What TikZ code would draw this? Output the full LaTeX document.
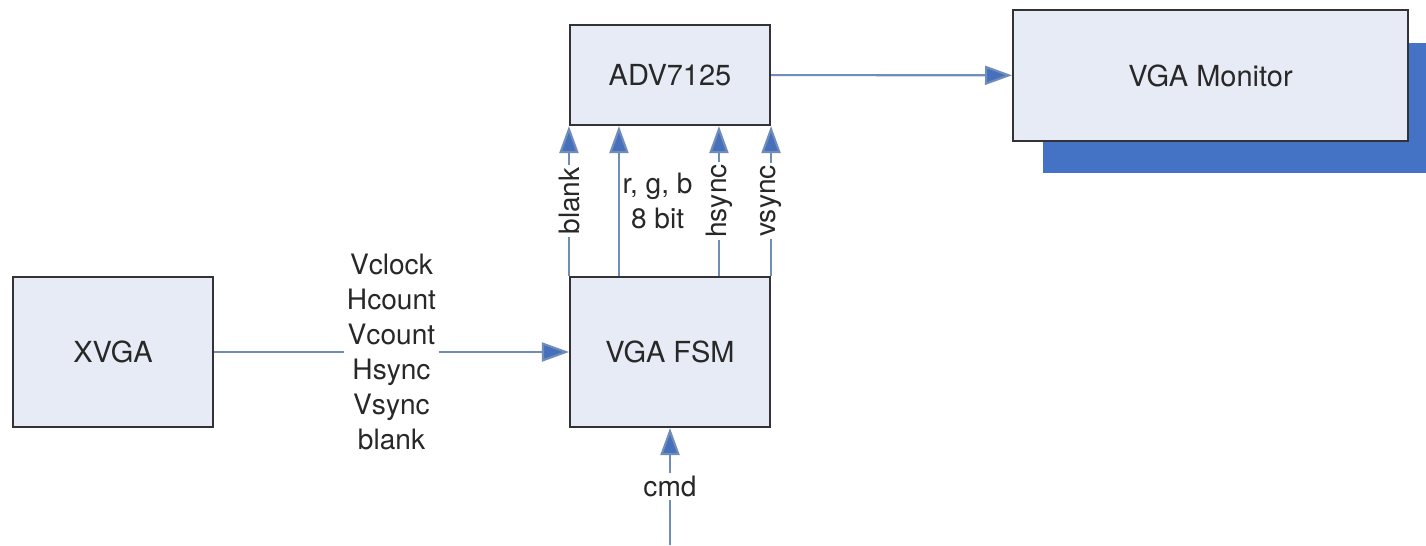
\documentclass[tikz,border=0pt]{standalone}
\usepackage{fontspec}
\setmainfont{TeX Gyre Heros}
\usetikzlibrary{
    arrows.meta,
    calc
}
\definecolor{BoxFill}{RGB}{231,235,246}
\definecolor{BoxLine}{RGB}{50,50,55}
\definecolor{WireBlue}{RGB}{112,140,184}
\definecolor{TipBlue}{RGB}{70,112,188}
\definecolor{ShadowBlue}{RGB}{68,114,196}
\definecolor{TextGray}{RGB}{40,40,40}
\tikzset{
  block/.style = {draw=BoxLine, fill=BoxFill, line width=1.2pt,
                  minimum width=4cm, minimum height=3cm, align=center,
                  font=\fontsize{16.5}{19}\selectfont, text=TextGray},
  sig/.style   = {fill=white, inner sep=1.5pt, text=TextGray,
                  font=\fontsize{16}{19.9}\selectfont},
  arr/.style   = {-{Triangle[length=0.54cm, width=0.38cm, fill=TipBlue]},
                  WireBlue, line width=1.2pt}
}

\begin{document}
\begin{tikzpicture}[x=0.02cm, y=-0.02cm]
\useasboundingbox (0,0) rectangle (1426,545);
% blocks
\fill[ShadowBlue] (1043,43) rectangle (1426,173);
\node[block] (xvga) at (113,352) {XVGA};
\node[block] (fsm) at (670,352) {VGA FSM};
\node[block, minimum height=2cm] (adv) at (670,75) {ADV7125};
\node[block, minimum width=7.9cm, minimum height=2.62cm] (monitor) at (1210.5,75.5) {VGA Monitor};
\coordinate (cmdin) at (670,545);
% wires
\draw[arr] (xvga) -- node[sig, align=center] {Vclock\\Hcount\\Vcount\\Hsync\\Vsync\\blank} (fsm);
\draw[arr] (adv) -- (monitor);
\draw[arr] (fsm.north west) -- node[sig, rotate=90] {blank} (adv.south west);
\draw[arr] ([xshift=1cm]fsm.north west) -- node[sig, right, align=center, fill=none] {r, g, b\\8 bit} ([xshift=1cm]adv.south west);
\draw[arr] ([xshift=3cm]fsm.north west) -- node[sig, rotate=90] {hsync} ([xshift=3cm]adv.south west);
\draw[arr] (fsm.north east) -- node[sig, rotate=90] {vsync} (adv.south east);
\draw[arr] (cmdin) -- node[sig] {cmd} (fsm);
\end{tikzpicture}
\end{document}
